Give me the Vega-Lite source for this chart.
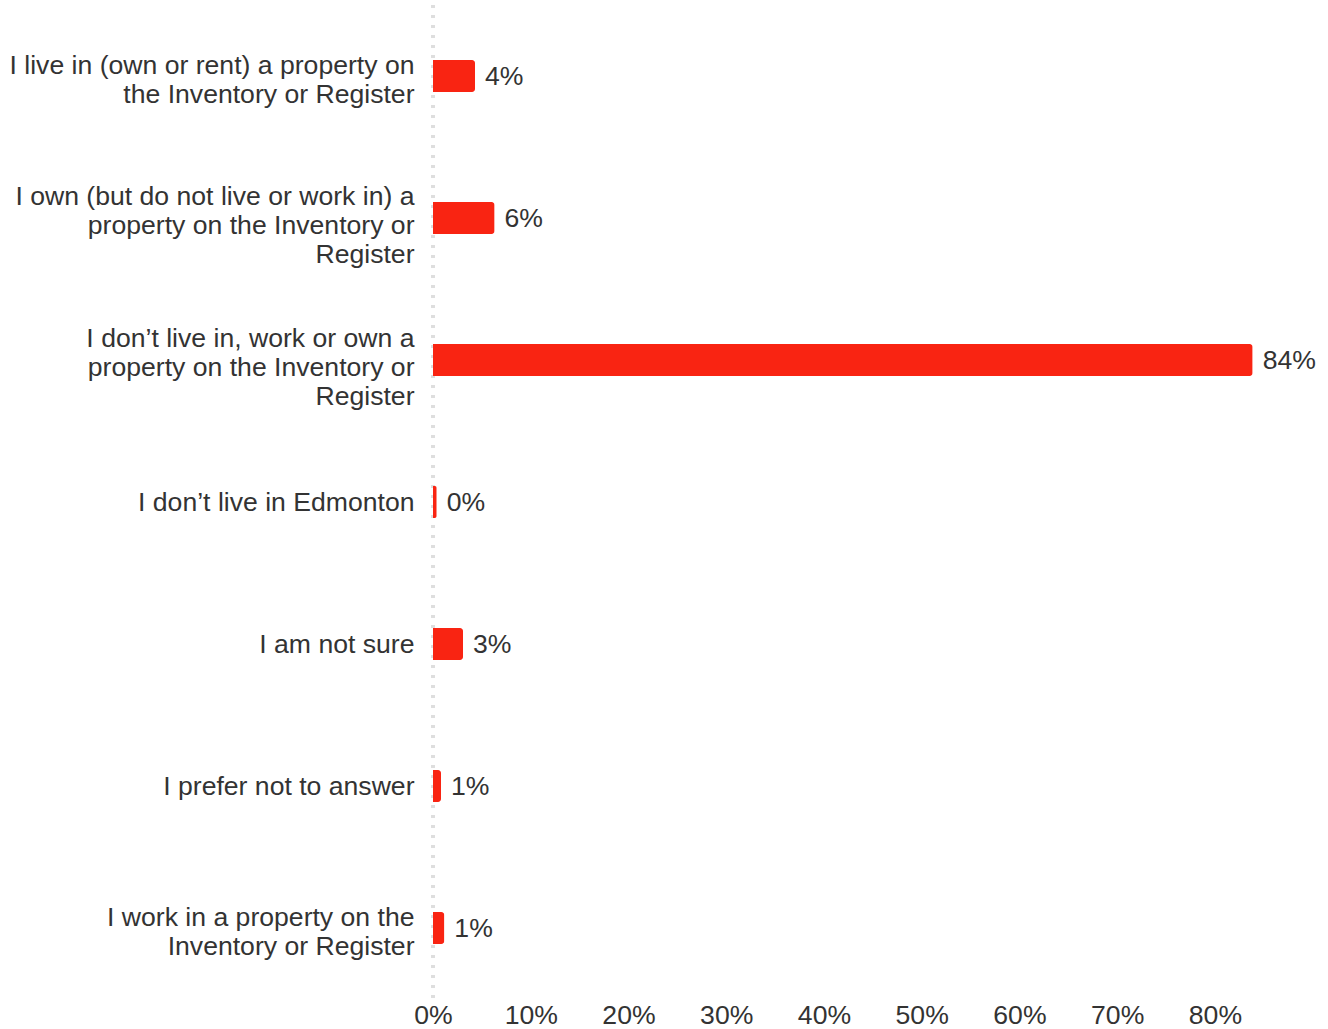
{
  "$schema": "https://vega.github.io/schema/vega-lite/v6.json",
  "width": 821,
  "height": 994,
  "autosize": {"type": "none"},
  "padding": {"left": 433, "top": 5, "right": 74, "bottom": 30},
  "background": "white",
  "config": {
    "view": {"stroke": null},
    "font": "Liberation Sans"
  },
  "data": {
    "values": [
      {"answer": "I live in (own or rent) a property on|the Inventory or Register", "share": 0.043},
      {"answer": "I own (but do not live or work in) a|property on the Inventory or|Register", "share": 0.063},
      {"answer": "I don’t live in, work or own a|property on the Inventory or|Register", "share": 0.8386},
      {"answer": "I don’t live in Edmonton", "share": 0.0038},
      {"answer": "I am not sure", "share": 0.0307},
      {"answer": "I prefer not to answer", "share": 0.0082},
      {"answer": "I work in a property on the|Inventory or Register", "share": 0.0116}
    ]
  },
  "encoding": {
    "y": {
      "field": "answer",
      "type": "nominal",
      "sort": null,
      "scale": {"paddingInner": 0.775, "paddingOuter": 0.3875},
      "axis": {
        "title": null,
        "domain": false,
        "ticks": false,
        "grid": false,
        "labelFontSize": 26.6,
        "labelColor": "#333333",
        "labelPadding": 19,
        "labelLimit": 600,
        "labelLineHeight": 29,
        "labelAlign": "right",
        "labelExpr": "split(datum.value, '|')",
        "labelOffset": {
          "condition": [
            {"test": "length(split(datum.value, '|')) == 3", "value": -21},
            {"test": "length(split(datum.value, '|')) == 2", "value": -10}
          ],
          "value": 1
        }
      }
    }
  },
  "layer": [
    {
      "mark": {"type": "rule", "color": "#dedede", "strokeWidth": 3, "strokeDash": [3, 7]},
      "encoding": {"x": {"datum": 0, "type": "quantitative"}, "y": null}
    },
    {
      "mark": {"type": "bar", "color": "#f92412", "cornerRadiusEnd": 3},
      "encoding": {
        "x": {
          "field": "share",
          "type": "quantitative",
          "scale": {"domain": [0, 0.84], "nice": false},
          "axis": {
            "title": null,
            "format": ".0%",
            "values": [0, 0.1, 0.2, 0.3, 0.4, 0.5, 0.6, 0.7, 0.8],
            "domain": false,
            "ticks": false,
            "grid": false,
            "labelFontSize": 26.6,
            "labelColor": "#333333",
            "labelPadding": 3,
            "labelFlush": false,
            "labelOverlap": false
          }
        }
      }
    },
    {
      "mark": {"type": "text", "align": "left", "baseline": "middle", "dx": 10, "dy": 1, "fontSize": 26.6, "color": "#333333"},
      "encoding": {
        "x": {"field": "share", "type": "quantitative"},
        "text": {"field": "share", "type": "quantitative", "format": ".0%"}
      }
    }
  ]
}
